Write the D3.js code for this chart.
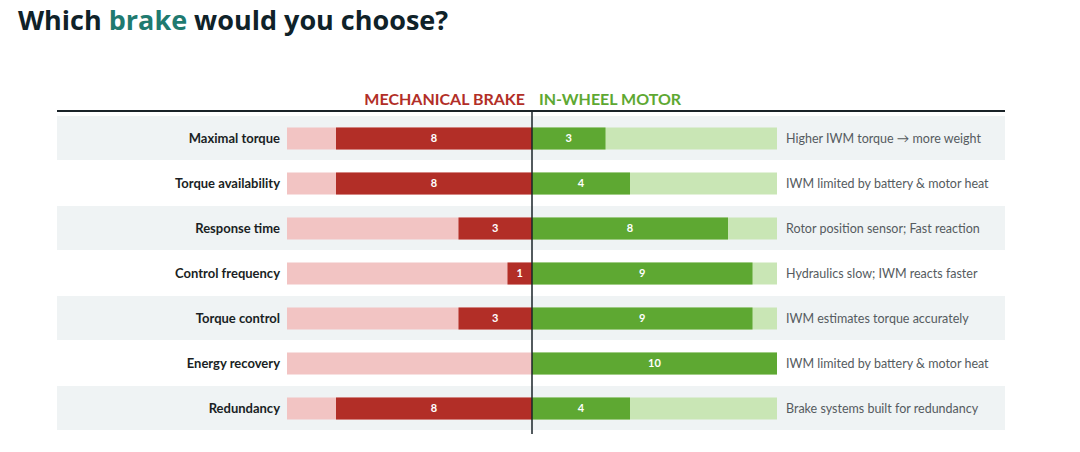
<!DOCTYPE html>
<html lang="en">
<head>
    <meta charset="UTF-8">
    <title>Which brake would you choose?</title>
    <script src="https://cdnjs.cloudflare.com/ajax/libs/d3/7.8.5/d3.min.js"></script>
    <style>
        body {
            margin: 0;
            background: #fff;
            overflow: hidden;
        }
        svg text {
            font-family: Lato, "Open Sans", sans-serif;
        }
    </style>
</head>
<body>
    <script>
        const categories = ['Maximal torque', 'Torque availability', 'Response time',
            'Control frequency', 'Torque control', 'Energy recovery', 'Redundancy'];
        const mechanical = [8, 8, 3, 1, 3, 0, 8];
        const inWheel = [3, 4, 8, 9, 9, 10, 4];
        const notes = ['Higher IWM torque \u2192 more weight', 'IWM limited by battery & motor heat',
            'Rotor position sensor; Fast reaction', 'Hydraulics slow; IWM reacts faster',
            'IWM estimates torque accurately', 'IWM limited by battery & motor heat',
            'Brake systems built for redundancy'];
        const maxScore = 10;

        const width = 1080, height = 452;
        const centerX = 532;

        const svg = d3.select('body').append('svg')
            .attr('width', width)
            .attr('height', height);

        // Title
        const title = svg.append('text')
            .attr('x', 18).attr('y', 30)
            .style('font-family', '"Open Sans", sans-serif')
            .style('font-size', '27px')
            .style('font-weight', 700)
            .attr('fill', '#0f2229');
        title.append('tspan').text('Which ');
        title.append('tspan').attr('fill', '#1f7a70').text('brake');
        title.append('tspan').text(' would you choose?');

        // Scales
        const y = d3.scaleBand()
            .domain(categories)
            .range([116, 431])
            .paddingInner(0);
        const left = d3.scaleLinear().domain([0, maxScore]).range([centerX, 287]);
        const right = d3.scaleLinear().domain([0, maxScore]).range([centerX, 777]);
        const barH = 22;

        // Row bands
        svg.selectAll('rect.band')
            .data(categories.filter((d, i) => i % 2 === 0))
            .enter().append('rect')
            .attr('class', 'band')
            .attr('x', 57).attr('width', 1005 - 57)
            .attr('y', d => y(d))
            .attr('height', y.bandwidth() - 1)
            .attr('fill', '#eff3f4');

        const rows = svg.selectAll('g.row')
            .data(categories)
            .enter().append('g')
            .attr('class', 'row')
            .attr('transform', d => `translate(0,${y(d) + y.bandwidth() / 2})`);

        // Background bars
        rows.append('rect')
            .attr('x', left(maxScore)).attr('width', left(0) - left(maxScore))
            .attr('y', -barH / 2).attr('height', barH)
            .attr('fill', '#f2c4c3');
        rows.append('rect')
            .attr('x', right(0)).attr('width', right(maxScore) - right(0))
            .attr('y', -barH / 2).attr('height', barH)
            .attr('fill', '#c9e6b5');

        // Value bars
        rows.append('rect')
            .attr('x', (d, i) => left(mechanical[i]))
            .attr('width', (d, i) => left(0) - left(mechanical[i]))
            .attr('y', -barH / 2).attr('height', barH)
            .attr('fill', '#b22e27');
        rows.append('rect')
            .attr('x', right(0))
            .attr('width', (d, i) => right(inWheel[i]) - right(0))
            .attr('y', -barH / 2).attr('height', barH)
            .attr('fill', '#5ea832');

        // Value labels
        rows.filter((d, i) => mechanical[i] > 0).append('text')
            .attr('x', d => (left(mechanical[categories.indexOf(d)]) + left(0)) / 2)
            .attr('dy', '0.35em')
            .attr('text-anchor', 'middle')
            .style('font-size', '11px').style('font-weight', 700)
            .attr('fill', '#fff')
            .text(d => mechanical[categories.indexOf(d)]);
        rows.append('text')
            .attr('x', (d, i) => (right(inWheel[i]) + right(0)) / 2)
            .attr('dy', '0.35em')
            .attr('text-anchor', 'middle')
            .style('font-size', '11px').style('font-weight', 700)
            .attr('fill', '#fff')
            .text((d, i) => inWheel[i]);

        // Category labels
        rows.append('text')
            .attr('x', 280)
            .attr('dy', '0.35em')
            .attr('text-anchor', 'end')
            .style('font-size', '13px').style('font-weight', 700)
            .attr('fill', '#1a1f24')
            .text(d => d);

        // Notes
        rows.append('text')
            .attr('x', 786)
            .attr('dy', '0.35em')
            .style('font-size', '12.5px')
            .attr('fill', '#555b60')
            .text((d, i) => notes[i]);

        // Header
        svg.append('text')
            .attr('x', 525).attr('y', 105)
            .attr('text-anchor', 'end')
            .style('font-size', '16px').style('font-weight', 700)
            .attr('fill', '#b22e27')
            .text('MECHANICAL BRAKE');
        svg.append('text')
            .attr('x', 539).attr('y', 105)
            .style('font-size', '16px').style('font-weight', 700)
            .attr('fill', '#5ea832')
            .text('IN-WHEEL MOTOR');

        svg.append('line')
            .attr('x1', 57).attr('x2', 1005)
            .attr('y1', 111).attr('y2', 111)
            .attr('stroke', '#1a2328').attr('stroke-width', 2);

        // Center axis
        svg.append('line')
            .attr('x1', centerX).attr('x2', centerX)
            .attr('y1', 111).attr('y2', 434)
            .attr('stroke', '#1a2328').attr('stroke-width', 1.5);
    </script>
</body>
</html>
